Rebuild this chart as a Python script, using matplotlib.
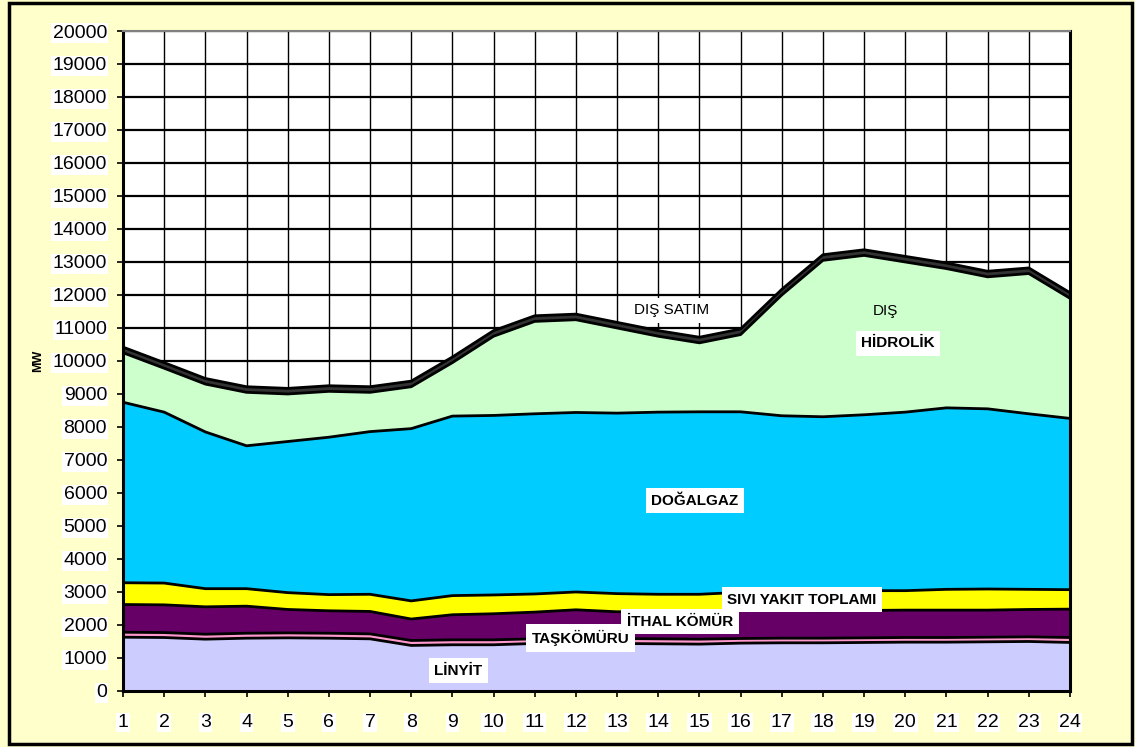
import matplotlib
matplotlib.use("Agg")
import matplotlib.pyplot as plt
import numpy as np
from matplotlib.patches import Rectangle

hours = list(range(1, 25))
linyit = [1630, 1620, 1570, 1600, 1610, 1600, 1580, 1380, 1400, 1400, 1440, 1450,
          1440, 1430, 1420, 1450, 1460, 1460, 1470, 1480, 1480, 1490, 1500, 1470]
taskomur = [150, 150, 150, 150, 150, 150, 150, 150, 150, 150, 140, 150,
            150, 150, 150, 140, 140, 140, 140, 140, 140, 140, 140, 150]
ithal_komur = [840, 840, 830, 820, 710, 680, 680, 650, 760, 790, 810, 860,
               810, 840, 850, 850, 840, 830, 830, 830, 830, 820, 830, 860]
sivi_yakit = [660, 660, 550, 530, 510, 490, 520, 550, 580, 570, 550, 540,
              550, 510, 510, 550, 560, 580, 600, 590, 630, 640, 610, 590]
dogalgaz = [5470, 5180, 4750, 4330, 4580, 4770, 4930, 5220, 5440, 5440, 5460, 5440,
            5470, 5520, 5530, 5470, 5340, 5300, 5330, 5410, 5500, 5460, 5320, 5190]
hidrolik = [1500, 1330, 1450, 1620, 1440, 1390, 1190, 1270, 1620, 2400, 2800, 2810,
            2580, 2300, 2090, 2340, 3660, 4740, 4830, 4550, 4220, 4000, 4250, 3640]
dis = [170] * 24

layers = [linyit, taskomur, ithal_komur, sivi_yakit, dogalgaz, hidrolik, dis]
colors = ["#CCCCFF", "#FF99CC", "#660066", "#FFFF00", "#00CCFF", "#CCFFCC", "#333333"]
yticks = list(range(0, 20001, 1000))

fig = plt.figure(figsize=(11.35, 7.47), dpi=100)
fig.patch.set_facecolor("#FFFFCC")
fig.patches.append(Rectangle((0.0075, 0.0035), 0.990, 0.993, transform=fig.transFigure,
                             fill=False, edgecolor="black", linewidth=2.5, zorder=10))

ax = fig.add_axes([0.1084, 0.075, 0.8343, 0.8835])
ax.set_facecolor("white")

x = np.array(hours)
base = np.zeros(24)
for vals, col in zip(layers, colors):
    top = base + np.array(vals)
    ax.fill_between(x, base, top, facecolor=col, edgecolor="none", zorder=3)
    base = top
cum = np.zeros(24)
for vals in layers:
    cum = cum + np.array(vals)
    ax.plot(x, cum, color="black", linewidth=2.0, zorder=4, solid_joinstyle="round")

ax.set_xlim(1, 24)
ax.set_ylim(0, 20000)
ax.set_xticks(hours)
ax.set_yticks(yticks)
ax.set_xticklabels([str(h) for h in hours], fontsize=14, family="Liberation Sans")
ax.set_yticklabels([str(v) for v in yticks], fontsize=14, family="Liberation Sans")
for lab in ax.get_xticklabels() + ax.get_yticklabels():
    lab.set_bbox(dict(facecolor="white", edgecolor="none", pad=1.0))
ax.tick_params(axis="both", direction="inout", length=9, width=1.2, color="black")
ax.tick_params(axis="y", pad=7)
ax.tick_params(axis="x", pad=12)

ax.grid(axis="y", color="black", linewidth=1.6, zorder=1)
ax.grid(axis="x", color="black", linewidth=1.0, zorder=1)
ax.set_axisbelow(True)
for side in ["left", "bottom", "right"]:
    ax.spines[side].set_linewidth(2.2)
    ax.spines[side].set_color("black")
ax.spines["top"].set_color("#808080")
ax.spines["top"].set_linewidth(1.5)
for sp in ax.spines.values():
    sp.set_zorder(6)

ax.set_ylabel("MW", fontsize=9, fontweight="bold", family="Liberation Sans", labelpad=6)

box = dict(facecolor="white", edgecolor="none", pad=4)
labels = [
    ("DIŞ SATIM", 14.33, 11545, "normal", True),
    ("DIŞ", 19.51, 11515, "normal", False),
    ("HİDROLİK", 19.82, 10545, "bold", True),
    ("DOĞALGAZ", 14.89, 5758, "bold", True),
    ("TAŞKÖMÜRÜ", 12.12, 1606, "bold", True),
    ("SIVI YAKIT TOPLAMI", 17.49, 2758, "bold", True),
    ("İTHAL KÖMÜR", 14.53, 2091, "bold", True),
    ("LİNYİT", 9.14, 606, "bold", True),
]
for i, (txt, lx, ly, fw, hasbox) in enumerate(labels):
    ax.text(lx, ly, txt, ha="center", va="center", fontsize=11, fontweight=fw,
            family="Liberation Sans", bbox=box if hasbox else None, zorder=7 + i)

fig.savefig("out.png", dpi=100, facecolor=fig.get_facecolor())
